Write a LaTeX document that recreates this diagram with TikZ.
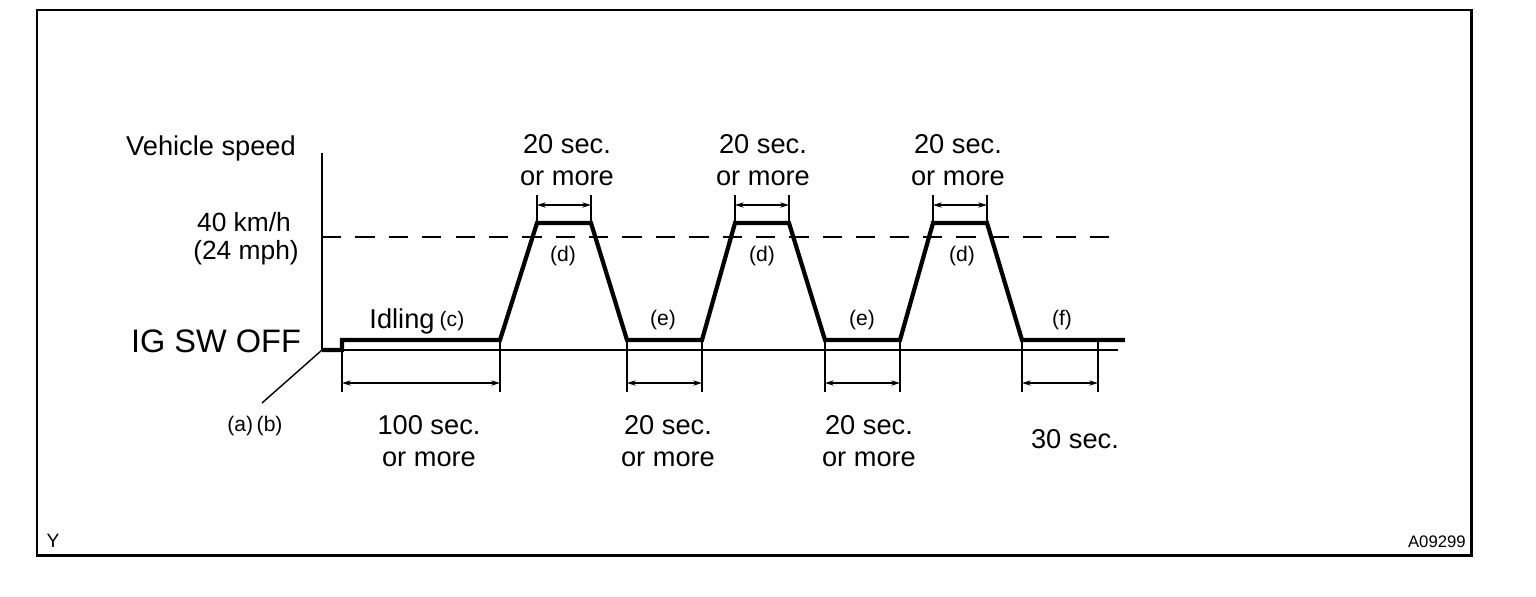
\documentclass[tikz,border=0pt]{standalone}
\usepackage{fontspec}
\setmainfont{Liberation Sans}
\usetikzlibrary{arrows.meta}
\begin{document}
\begin{tikzpicture}[x=0.02cm,y=-0.02cm,
  frameline/.style={line width=1.7pt},
  axisline/.style={line width=0.8pt},
  profile/.style={line width=2.4pt,line join=miter},
  dimline/.style={line width=0.8pt,{Stealth[length=5pt,width=3pt]}-{Stealth[length=5pt,width=3pt]}},
  tickline/.style={line width=0.8pt},
  dashline/.style={line width=0.8pt,dash pattern=on 11pt off 8pt},
  biglbl/.style={font=\fontsize{15.5pt}{18pt}\selectfont,align=center,inner sep=0pt,anchor=base},
  smalllbl/.style={font=\fontsize{12pt}{14pt}\selectfont,inner sep=0pt},
]
\useasboundingbox (0,0) rectangle (1536,596);
\draw[frameline] (37,10) rectangle (1471,555);
\node[font=\fontsize{11pt}{13pt}\selectfont,inner sep=0pt] (ylbl) at (53,541) {Y};
\node[font=\fontsize{9.5pt}{11pt}\selectfont,inner sep=0pt,anchor=east] (code) at (1466,542) {A09299};

% axis
\coordinate (axtop) at (322,153);
\coordinate (org) at (322,350);
\coordinate (diag) at (262,403);
\coordinate (baseend) at (1118,350);
\coordinate (dashstart) at (322,237);
\coordinate (dashend) at (1113,237);
\draw[axisline] (axtop) -- (org);
\draw[axisline] (org) -- (diag);
\draw[axisline] (org) -- (baseend);
\draw[dashline] (dashstart) -- (dashend);

% profile
\coordinate (p0) at (322,350);
\coordinate (p1) at (342,350);
\coordinate (p2) at (342,340);
\coordinate (p3) at (500,340);
\coordinate (p4) at (537,223);
\coordinate (p5) at (591,223);
\coordinate (p6) at (627,340);
\coordinate (p7) at (702,340);
\coordinate (p8) at (735,223);
\coordinate (p9) at (789,223);
\coordinate (p10) at (825,340);
\coordinate (p11) at (900,340);
\coordinate (p12) at (933,223);
\coordinate (p13) at (987,223);
\coordinate (p14) at (1022,340);
\coordinate (p15) at (1125,340);
\draw[profile] (p0) -- (p1) -- (p2) -- (p3) -- (p4) -- (p5) -- (p6) -- (p7) -- (p8) -- (p9) -- (p10) -- (p11) -- (p12) -- (p13) -- (p14) -- (p15);

% top dimensions
\foreach \a/\b/\n in {537/591/1,735/789/2,933/987/3}{
  \coordinate (ta\n) at (\a,195);
  \coordinate (tb\n) at (\b,195);
  \coordinate (tab\n) at (\a,223);
  \coordinate (tbb\n) at (\b,223);
  \coordinate (tda\n) at (\a,205);
  \coordinate (tdb\n) at (\b,205);
  \draw[tickline] (ta\n) -- (tab\n);
  \draw[tickline] (tb\n) -- (tbb\n);
  \draw[dimline] (tda\n) -- (tdb\n);
}
% bottom dimensions
\foreach \a/\b/\n in {342/500/1,627/702/2,825/900/3,1022/1098/4}{
  \coordinate (ba\n) at (\a,340);
  \coordinate (bb\n) at (\b,340);
  \coordinate (bab\n) at (\a,392);
  \coordinate (bbb\n) at (\b,392);
  \coordinate (bda\n) at (\a,383);
  \coordinate (bdb\n) at (\b,383);
  \draw[tickline] (ba\n) -- (bab\n);
  \draw[tickline] (bb\n) -- (bbb\n);
  \draw[dimline] (bda\n) -- (bdb\n);
}

% labels
\node[biglbl] (vs) at (211,155) {Vehicle speed};
\node[biglbl,font=\fontsize{15pt}{17pt}\selectfont] (kmh) at (244,231) {40 km/h};
\node[biglbl,font=\fontsize{15pt}{17pt}\selectfont] (mph) at (246,259) {(24 mph)};
\node[biglbl,font=\fontsize{18.5pt}{20pt}\selectfont] (ig) at (216,352) {IG SW OFF};
\node[smalllbl] (ab) at (255,426) {(a)\,(b)};
\node[biglbl] (idl) at (402,328) {Idling};
\node[smalllbl] (c) at (452,321) {(c)};
\foreach \x/\n in {567/1,763/2,958/3}{
  \node[biglbl] (tt\n) at (\x,185) {20 sec.\\or more};
}
\foreach \x/\n in {563/1,762/2,962/3}{
  \node[smalllbl] (d\n) at (\x,256) {(d)};
}
\node[smalllbl] (e1) at (663,320) {(e)};
\node[smalllbl] (e2) at (862,320) {(e)};
\node[smalllbl] (f) at (1062,320) {(f)};
\node[biglbl] (bt1) at (429,466) {100 sec.\\or more};
\node[biglbl] (bt2) at (668,466) {20 sec.\\or more};
\node[biglbl] (bt3) at (869,466) {20 sec.\\or more};
\node[biglbl] (bt4) at (1075,448) {30 sec.};
\end{tikzpicture}
\end{document}
